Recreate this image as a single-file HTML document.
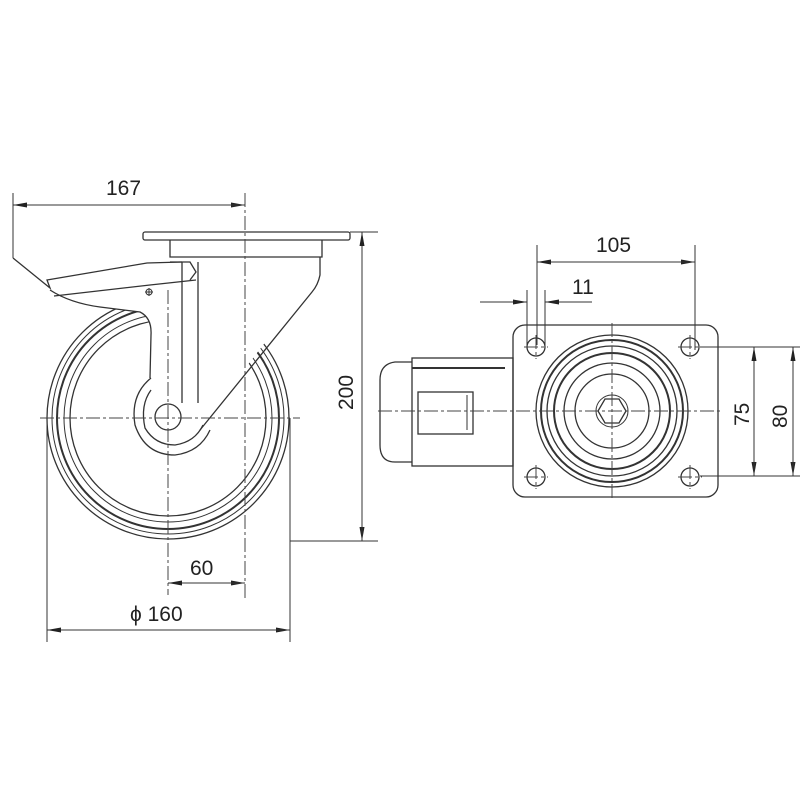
<!DOCTYPE html>
<html><head><meta charset="utf-8"><style>
html,body{margin:0;padding:0;background:#fff}
svg{display:block}
text{font-family:"Liberation Sans",sans-serif;font-size:21px;fill:#222}
</style></head><body>
<svg width="800" height="800" viewBox="0 0 800 800" xmlns="http://www.w3.org/2000/svg">
<defs>
<marker id="a" markerWidth="14" markerHeight="6" refX="14" refY="3" orient="auto" markerUnits="userSpaceOnUse"><path d="M0,0.5 L14,3 L0,5.5z" fill="#222"/></marker>
</defs>
<g stroke="#333" fill="none" stroke-width="1.3">
<!-- wheel -->
<circle cx="168" cy="418" r="121"/>
<circle cx="168" cy="418" r="116" stroke-width="1"/>
<circle cx="168" cy="418" r="111" stroke-width="2"/>
<circle cx="168" cy="418" r="104" stroke-width="1"/>
<circle cx="168" cy="418" r="98"/>
<!-- fork cover -->
<path d="M50,290 Q70,303 100,307 L140,312 Q152,318 151,335 L150,380 Q135,395 138,420 Q145,445 168,450 Q195,448 205,420 L312,282 L320,258 L322,257 L170,257 L170,262 L150,264 L47,280 Z" fill="#fff" stroke="none"/>
<!-- hub -->
<path d="M151,378 Q130,395 135,425 Q145,455 175,455 Q200,452 210,430" />
<path d="M151,390 Q140,405 145,428 Q155,445 175,445 Q195,442 203,425"/>
<circle cx="168" cy="417" r="13"/>
<!-- brake -->
<path d="M13,258 L50,288 L47,280 L147,263 L182,262"/>
<path d="M50,290 Q70,303 100,307 L140,312 Q152,318 151,335 L150,378"/>
<path d="M54,296 L150,285 L196,280"/>
<path d="M170,262 L190,262 L196,272 L190,280"/>
<!-- plates -->
<rect x="143" y="232" width="207" height="8" rx="2"/>
<path d="M170,240 L170,257 L322,257 L322,240"/>
<path d="M320,257 L320,275 Q318,285 312,292 L200,430"/>
<line x1="182" y1="262" x2="182" y2="403"/>
<line x1="198" y1="262" x2="198" y2="403"/>
<path d="M145,292 h8 M149,288 v8" stroke-width="1"/>
<circle cx="149" cy="292" r="3" stroke-width="1"/>
</g>
<!-- centre lines left -->
<g stroke="#444" stroke-width="1" stroke-dasharray="14,3,3,3" fill="none">
<line x1="40" y1="418" x2="300" y2="418"/>
<line x1="168" y1="290" x2="168" y2="595"/>
<line x1="245" y1="193" x2="245" y2="600"/>
</g>
<!-- dims left -->
<g stroke="#333" stroke-width="1" fill="none">
<line x1="13" y1="193" x2="13" y2="258"/>
<line x1="13" y1="205" x2="245" y2="205" marker-end="url(#a)"/>
<line x1="245" y1="205" x2="13" y2="205" marker-end="url(#a)"/>
<line x1="350" y1="232" x2="378" y2="232"/>
<line x1="290" y1="541" x2="378" y2="541"/>
<line x1="362" y1="232" x2="362" y2="541" marker-end="url(#a)"/>
<line x1="362" y1="541" x2="362" y2="232" marker-end="url(#a)"/>
<line x1="168" y1="583" x2="245" y2="583" marker-end="url(#a)"/>
<line x1="245" y1="583" x2="168" y2="583" marker-end="url(#a)"/>
<line x1="47" y1="418" x2="47" y2="642"/>
<line x1="290" y1="418" x2="290" y2="642"/>
<line x1="47" y1="630" x2="290" y2="630" marker-end="url(#a)"/>
<line x1="290" y1="630" x2="47" y2="630" marker-end="url(#a)"/>
</g>
<text x="106" y="195">167</text>
<text x="190" y="575">60</text>
<text x="130" y="621">ϕ 160</text>
<text transform="translate(353,410) rotate(-90)">200</text>
<!-- right view -->
<g stroke="#333" fill="none" stroke-width="1.3">
<rect x="513" y="325" width="205" height="172" rx="12"/>
<path d="M412,362 L395,362 Q380,364 380,380 L380,445 Q380,462 395,462 L412,462"/>
<rect x="412" y="358" width="101" height="108"/>
<line x1="412" y1="368" x2="505" y2="368" stroke-width="2"/>
<rect x="418" y="392" width="55" height="42"/>
<line x1="467" y1="395" x2="467" y2="430" stroke-width="1"/>
<circle cx="612" cy="411" r="76"/>
<circle cx="612" cy="411" r="71" stroke-width="2"/>
<circle cx="612" cy="411" r="65"/>
<circle cx="612" cy="411" r="58" stroke-width="2"/>
<circle cx="612" cy="411" r="48"/>
<circle cx="612" cy="411" r="37"/>
<polygon points="626,411 619,423 605,423 598,411 605,399 619,399"/>
<circle cx="612" cy="411" r="16" stroke-width="1"/>
<circle cx="536" cy="347" r="9"/><circle cx="690" cy="347" r="9"/>
<circle cx="536" cy="477" r="9"/><circle cx="690" cy="477" r="9"/>
</g>
<g stroke="#444" stroke-width="1" stroke-dasharray="14,3,3,3" fill="none">
<line x1="378" y1="411" x2="722" y2="411"/>
<line x1="612" y1="323" x2="612" y2="500"/>
<path d="M524,347h24M536,335v24M678,347h24M690,335v24M524,477h24M536,465v24M678,477h24M690,465v24"/>
</g>
<g stroke="#333" stroke-width="1" fill="none">
<line x1="537" y1="245" x2="537" y2="345"/>
<line x1="695" y1="245" x2="695" y2="350"/>
<line x1="537" y1="262" x2="695" y2="262" marker-end="url(#a)"/>
<line x1="695" y1="262" x2="537" y2="262" marker-end="url(#a)"/>
<line x1="527" y1="290" x2="527" y2="345"/>
<line x1="545" y1="290" x2="545" y2="345"/>
<line x1="480" y1="302" x2="527" y2="302" marker-end="url(#a)"/>
<line x1="592" y1="302" x2="545" y2="302" marker-end="url(#a)"/>
<line x1="700" y1="347" x2="800" y2="347"/>
<line x1="700" y1="476" x2="800" y2="476"/>
<line x1="754" y1="347" x2="754" y2="476" marker-end="url(#a)"/>
<line x1="754" y1="476" x2="754" y2="347" marker-end="url(#a)"/>
<line x1="793" y1="347" x2="793" y2="476" marker-end="url(#a)"/>
<line x1="793" y1="476" x2="793" y2="347" marker-end="url(#a)"/>
</g>
<text x="596" y="252">105</text>
<text x="572" y="294">11</text>
<text transform="translate(749,426) rotate(-90)">75</text>
<text transform="translate(787,428) rotate(-90)">80</text>
</svg>
</body></html>
